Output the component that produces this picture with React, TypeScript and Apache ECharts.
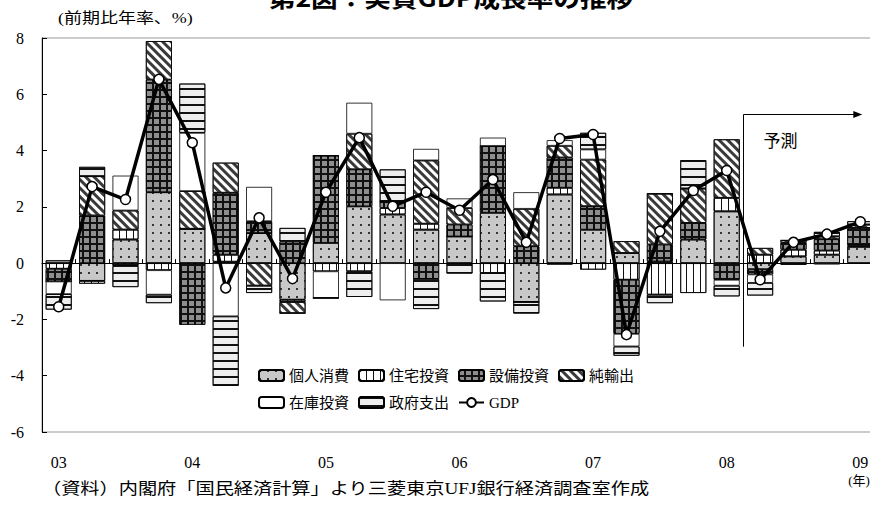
import React, { useEffect, useRef } from 'react';
import * as echarts from 'echarts';

// ---- data ----
const years = ['03', '04', '05', '06', '07', '08', '09'];
const quarterCount = 25; // 2003Q1 .. 2009Q1
const forecastStart = 21; // 2008Q2 (index)

const seriesNames = ['個人消費', '住宅投資', '設備投資', '純輸出', '在庫投資', '政府支出'];
const gdpName = 'GDP';

const personal = [0.1, -0.63, 0.84, 2.52, 1.22, 0.05, 1.07, -1.3, 0.72, 2.02, 1.73, 1.19, 0.95, 1.79, -1.38, 2.44, 1.19, 0.36, 0.06, 0.84, 1.84, -0.22, 0.24, 0.3, 0.58];
const housing = [-0.2, -0.1, 0.35, -0.25, 0, 0.25, 0, -0.08, -0.29, -0.29, 0.23, 0.21, 0, -0.35, 0, 0.24, -0.23, -0.59, -1.12, -1.06, 0.48, 0.3, 0.24, 0.15, 0.05];
const capex = [-0.45, 1.69, -0.1, 4.0, -2.19, 2.2, 0.42, 0.77, 3.1, 1.31, 0.23, -0.56, 0.42, 2.37, 0.6, 1.07, 0.83, -1.92, 0.6, 0.59, -0.59, -0.18, 0.24, 0.4, 0.62];
const netExports = [0, 1.4, 0.68, 1.37, 1.34, 1.07, -0.8, -0.4, 0, 1.27, 0, 2.25, 0.59, 0, 1.33, 0.42, 1.66, 0.42, 1.81, 1.22, 2.08, 0.24, 0.09, 0.1, 0.12];
const inventory = [-0.45, 0, 1.24, -0.87, 2.07, -1.89, 1.22, 0, -0.95, 1.1, -1.32, 0.41, 0.34, 0.3, 0.59, 0.2, 0.36, -0.45, 0, 0, -0.21, -0.3, 0, -0.05, 0];
const government = [-0.55, 0.33, -0.75, -0.3, 1.75, -2.47, -0.26, 0.48, 0, -0.91, 1.14, -1.07, -0.37, -1.01, -0.41, -0.05, 0.59, -0.33, -0.3, 1.01, -0.38, -0.45, -0.06, 0.16, 0.12];
const gdp = [-1.55, 2.72, 2.26, 6.53, 4.28, -0.88, 1.61, -0.55, 2.52, 4.46, 2.02, 2.52, 1.88, 2.97, 0.74, 4.43, 4.57, -2.54, 1.13, 2.58, 3.29, -0.59, 0.74, 1.03, 1.47];

const yMin = -6;
const yMax = 8;
const yInterval = 2;
const forecastTop = 5.3;
const forecastBottom = -2.97;

const titleText = '第2図：実質GDP成長率の推移';
const unitText = '(前期比年率、%)';
const sourceText = '（資料）内閣府「国民経済計算」より三菱東京UFJ銀行経済調査室作成';
const yearUnitText = '(年)';
const forecastText = '予測';

const categories: string[] = [];
for (let i = 0; i < quarterCount; i++) {
  categories.push(`${years[Math.floor(i / 4)]}Q${(i % 4) + 1}`);
}

const seriesData = [personal, housing, capex, netExports, inventory, government];

const SERIF_CJK = '"Liberation Serif", "Noto Sans CJK JP", serif';
const CJK = '"Noto Sans CJK JP", sans-serif';

const styles: any[] = [
  // 個人消費: light gray with dots
  { color: '#c8c8c8', decal: { symbol: 'rect', symbolSize: 1, dashArrayX: [2, 6], dashArrayY: [2, 6], color: '#333' } },
  // 住宅投資: white with vertical lines
  { color: '#ffffff', decal: { symbol: 'rect', symbolSize: 1, dashArrayX: [1, 6], dashArrayY: [4, 0], color: '#111' } },
  // 設備投資: gray squares with black grid
  { color: '#111111', decal: { symbol: 'rect', symbolSize: 1, dashArrayX: [5, 2], dashArrayY: [5, 2], color: '#8e8e8e' } },
  // 純輸出: diagonal stripes
  { color: '#ffffff', decal: { symbol: 'rect', symbolSize: 1, dashArrayX: [3, 3], dashArrayY: [4, 0], rotation: -Math.PI / 4, color: '#3a3a3a' } },
  // 在庫投資: white
  { color: '#ffffff' },
  // 政府支出: light with horizontal lines
  { color: '#eeeeee', decal: { symbol: 'rect', symbolSize: 1, dashArrayX: [4, 0], dashArrayY: [2, 6], color: '#111' } },
];

export default function App() {
  const ref = useRef<HTMLDivElement>(null);

  useEffect(() => {
    if (!ref.current) return;
    const chart = echarts.init(ref.current, undefined, { renderer: 'svg' });

    const barSeries = seriesNames.map((name, i) => ({
      name,
      type: 'bar',
      stack: 'total',
      xAxisIndex: 0,
      yAxisIndex: 0,
      barWidth: 26,
      data: seriesData[i],
      itemStyle: {
        color: styles[i].color,
        borderColor: '#000',
        borderWidth: 0.8,
        decal: styles[i].decal,
      },
      emphasis: { disabled: true },
    }));

    const option: any = {
      animation: false,
      backgroundColor: '#fff',
      grid: {
        left: 42,
        top: 38,
        right: 0,
        bottom: 73,
        show: true,
        borderColor: '#999',
        borderWidth: 1,
        backgroundColor: 'transparent',
      },
      legend: [
        {
          data: seriesNames.slice(0, 4),
          left: 258,
          top: 368,
          padding: 0,
          itemWidth: 25,
          itemHeight: 11,
          itemGap: 9,
          selectedMode: false,
          textStyle: { fontSize: 15, fontFamily: SERIF_CJK, color: '#000' },
        },
        {
          data: [seriesNames[4], seriesNames[5], gdpName],
          left: 258,
          top: 395,
          padding: 0,
          itemWidth: 25,
          itemHeight: 11,
          itemGap: 9,
          selectedMode: false,
          textStyle: { fontSize: 15, fontFamily: SERIF_CJK, color: '#000' },
        },
      ],
      xAxis: [
        {
          type: 'category',
          data: categories,
          position: 'bottom',
          axisLine: { onZero: true, lineStyle: { color: '#000', width: 1 } },
          axisTick: { show: true, inside: true, length: 4, interval: 0, lineStyle: { color: '#000' } },
          axisLabel: { show: false },
          splitLine: { show: false },
        },
        {
          type: 'category',
          data: categories,
          position: 'bottom',
          axisLine: { show: false, onZero: false },
          axisTick: { show: false },
          axisLabel: {
            interval: 3,
            margin: 22,
            fontSize: 16,
            fontFamily: SERIF_CJK,
            color: '#000',
            formatter: (v: string) => v.slice(0, 2),
          },
          splitLine: { show: false },
        },
      ],
      yAxis: {
        type: 'value',
        min: yMin,
        max: yMax,
        interval: yInterval,
        axisLine: { show: true, lineStyle: { color: '#000', width: 1 } },
        axisTick: { show: true, inside: true, length: 5, lineStyle: { color: '#000' } },
        axisLabel: { fontSize: 16, fontFamily: SERIF_CJK, color: '#000', margin: 18 },
        splitLine: { show: false },
      },
      series: [
        ...barSeries,
        {
          name: gdpName,
          type: 'line',
          xAxisIndex: 0,
          yAxisIndex: 0,
          data: gdp,
          symbol: 'circle',
          symbolSize: 10,
          z: 10,
          lineStyle: { color: '#000', width: 3.5 },
          itemStyle: { color: '#fff', borderColor: '#000', borderWidth: 1.5 },
          emphasis: { disabled: true },
        },
      ],
    };

    chart.setOption(option);

    const p0 = chart.convertToPixel({ xAxisIndex: 0, yAxisIndex: 0 }, [0, 0]) as number[];
    const p1 = chart.convertToPixel({ xAxisIndex: 0, yAxisIndex: 0 }, [1, 0]) as number[];
    const band = p1[0] - p0[0];
    const pStart = chart.convertToPixel({ xAxisIndex: 0, yAxisIndex: 0 }, [forecastStart, forecastTop]) as number[];
    const pBottom = chart.convertToPixel({ xAxisIndex: 0, yAxisIndex: 0 }, [forecastStart, forecastBottom]) as number[];
    const pEnd = chart.convertToPixel({ xAxisIndex: 0, yAxisIndex: 0 }, [quarterCount - 1, forecastTop]) as number[];
    const xLine = Math.round(pStart[0] - band / 2) + 0.5;
    const yTop = Math.round(pStart[1]) + 0.5;
    const yBot = pBottom[1];
    const xTip = pEnd[0] + 2;

    chart.setOption({
      graphic: [
        {
          type: 'text',
          x: 451,
          y: -3,
          scaleX: 1.11,
          style: { text: titleText, font: `bold 24px ${CJK}`, fill: '#000', textAlign: 'center', textVerticalAlign: 'middle' },
        },
        {
          type: 'text',
          x: 58,
          y: 18,
          scaleX: 1.2,
          style: { text: unitText, font: `15px ${SERIF_CJK}`, fill: '#000', textAlign: 'left', textVerticalAlign: 'middle' },
        },
        {
          type: 'text',
          x: 42,
          y: 489,
          scaleX: 1.2,
          style: { text: sourceText, font: `16px ${SERIF_CJK}`, fill: '#000', textAlign: 'left', textVerticalAlign: 'middle' },
        },
        {
          type: 'text',
          x: 859,
          y: 480,
          style: { text: yearUnitText, font: `13px ${SERIF_CJK}`, fill: '#000', textAlign: 'center', textVerticalAlign: 'middle' },
        },
        {
          type: 'text',
          x: xLine + 20,
          y: yTop + 25,
          style: { text: forecastText, font: `17px ${CJK}`, fill: '#000', textAlign: 'left', textVerticalAlign: 'middle' },
        },
        {
          type: 'line',
          shape: { x1: xLine, y1: yTop, x2: xLine, y2: yBot },
          style: { stroke: '#000', lineWidth: 1 },
          z: 20,
        },
        {
          type: 'line',
          shape: { x1: xLine, y1: yTop, x2: xTip - 8, y2: yTop },
          style: { stroke: '#000', lineWidth: 1 },
          z: 20,
        },
        {
          type: 'polygon',
          shape: { points: [[xTip, yTop], [xTip - 9, yTop - 3.5], [xTip - 9, yTop + 3.5]] },
          style: { fill: '#000' },
          z: 20,
        },
      ],
    });

    return () => chart.dispose();
  }, []);

  return (
    <div style={{ position: 'fixed', left: 0, top: 0, width: 870, height: 505, overflow: 'hidden', background: '#fff' }}>
      <div ref={ref} style={{ width: 877, height: 505 }} />
    </div>
  );
}
